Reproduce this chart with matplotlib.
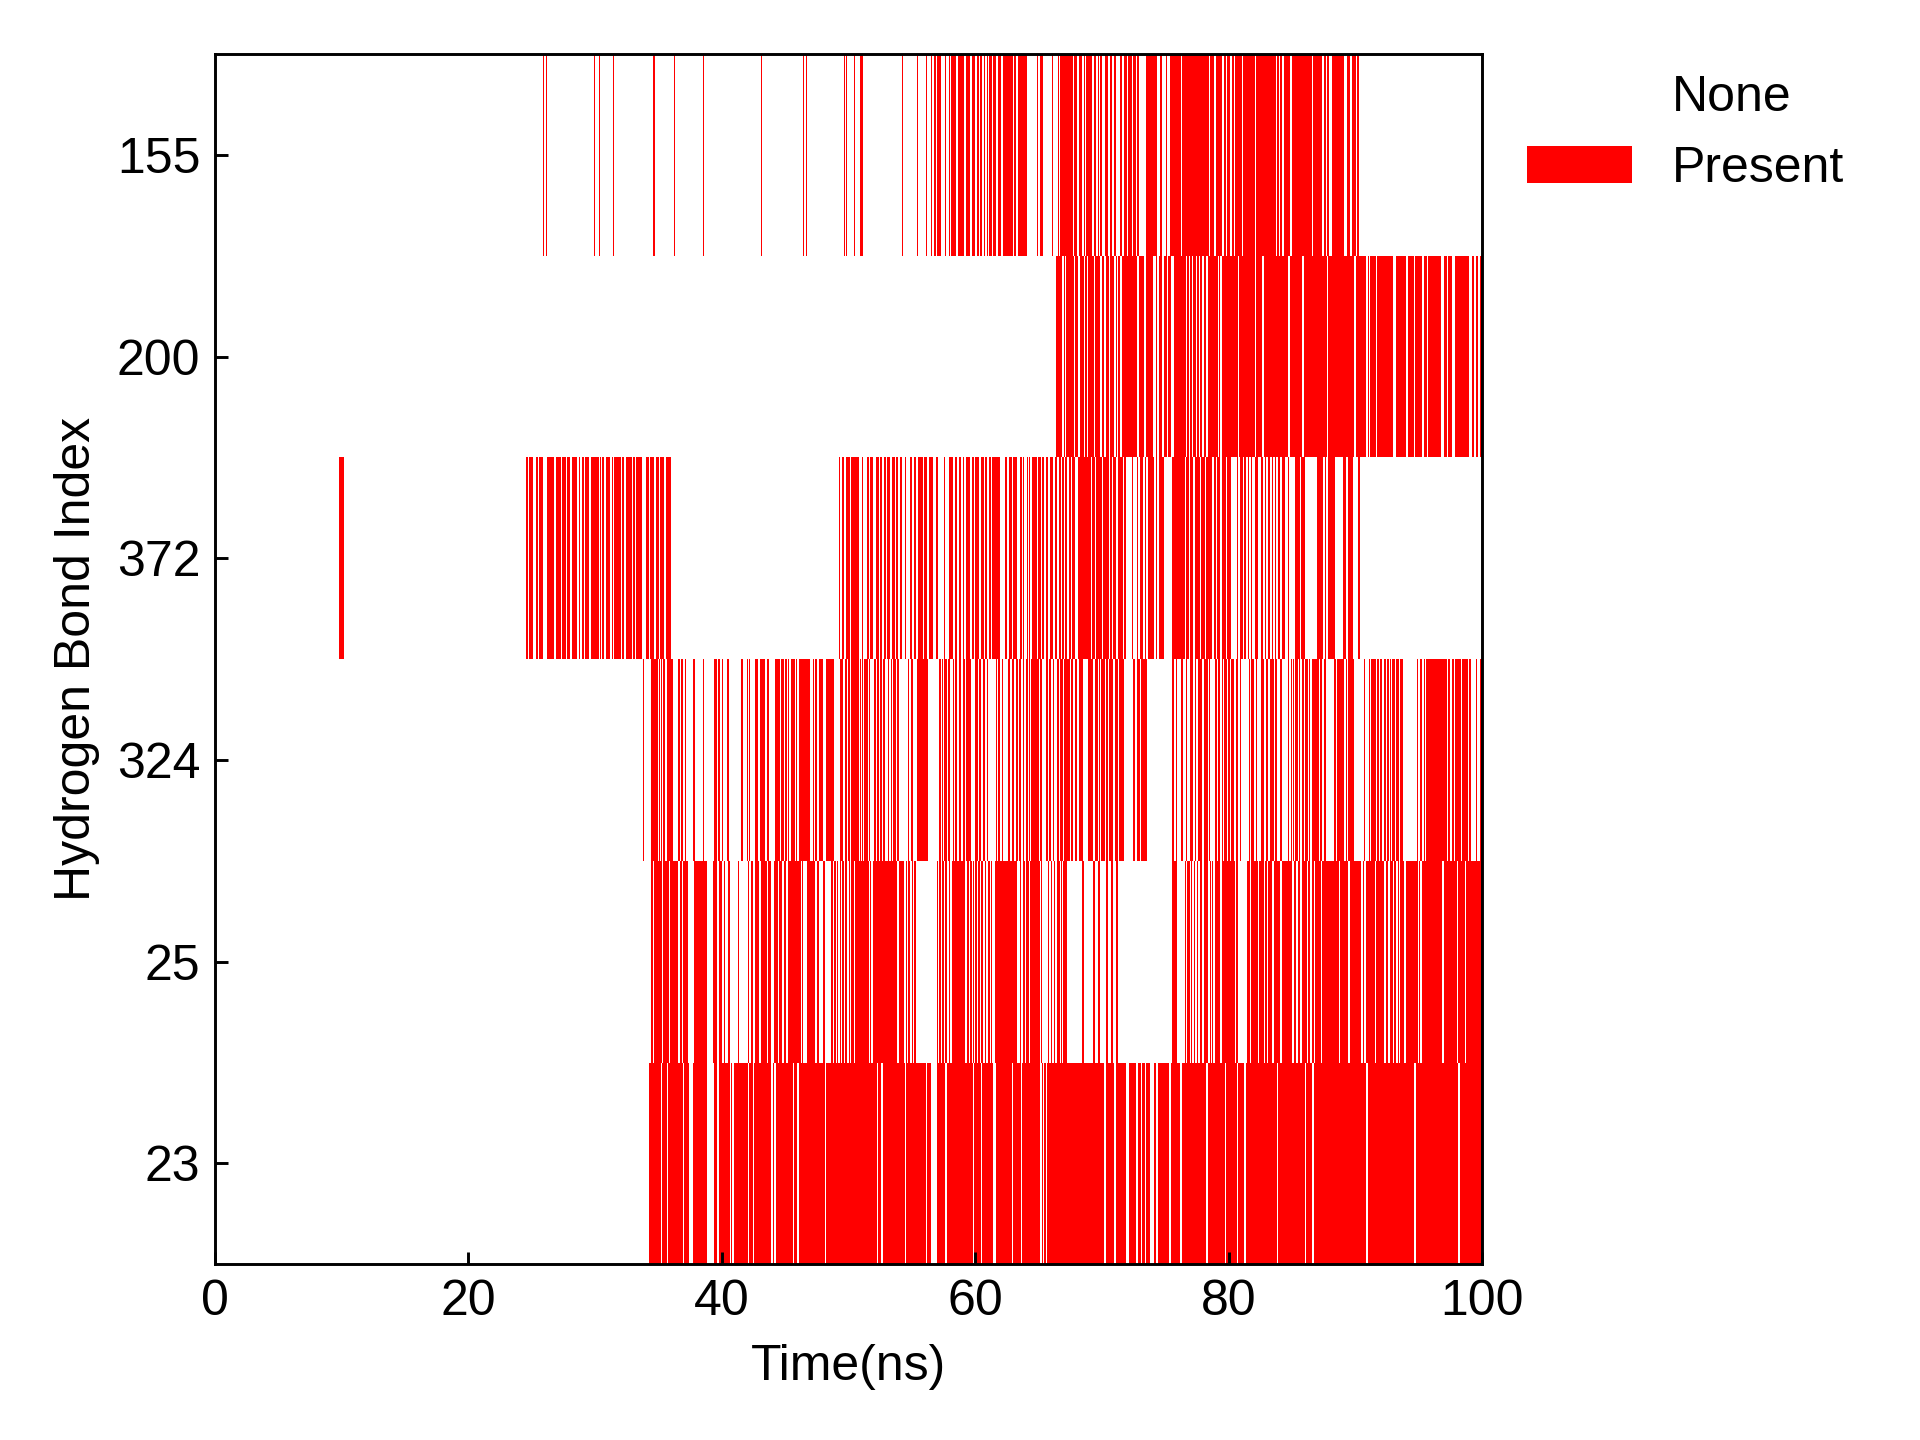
import matplotlib
matplotlib.use('Agg')
import matplotlib.pyplot as plt
from matplotlib.patches import Patch

plt.rcParams.update({'font.family': ['Liberation Sans', 'DejaVu Sans'], 'font.size': 12,
                     'axes.linewidth': 0.7})

# hydrogen bond labels, top row first
bond_labels = ['155', '200', '372', '324', '25', '23']

# presence intervals (ns)
hb155 = [(25.90, 25.98), (26.10, 26.18), (29.90, 29.98), (30.30, 30.38), (31.40, 31.48), (34.60, 34.68),
         (36.20, 36.28), (38.50, 38.58), (43.10, 43.18), (46.40, 46.48), (46.60, 46.68), (49.60, 49.70),
         (49.80, 49.88), (50.40, 50.48), (50.90, 51.10), (54.20, 54.28), (55.40, 55.48), (56.10, 56.18),
         (56.50, 56.58), (56.70, 56.90), (57.00, 57.30), (57.60, 57.68), (57.90, 57.98), (58.10, 58.50),
         (58.60, 59.10), (59.30, 59.60), (59.70, 60.00), (60.10, 60.30), (60.40, 60.50), (60.70, 60.78),
         (60.90, 61.00), (61.10, 61.30), (61.40, 61.60), (61.80, 62.00), (62.17, 62.38), (62.43, 62.96),
         (63.07, 63.22), (63.33, 64.07), (64.85, 64.96), (65.12, 65.33), (66.06, 66.12), (66.49, 66.59),
         (66.70, 67.12), (67.17, 67.70), (67.80, 68.01), (68.17, 68.43), (68.54, 68.64), (68.75, 68.85),
         (68.91, 69.22), (69.33, 69.54), (69.64, 69.75), (69.80, 69.96), (70.22, 70.49), (70.59, 70.80),
         (70.91, 71.12), (71.43, 71.59), (71.70, 71.96), (72.06, 72.33), (72.43, 72.64), (72.75, 72.91),
         (73.49, 74.33), (74.59, 74.70), (75.01, 75.12), (75.38, 76.22), (76.33, 77.70), (77.75, 78.43),
         (78.54, 78.80), (78.96, 79.49), (79.64, 79.75), (79.85, 80.12), (80.22, 80.38), (80.49, 81.01),
         (81.12, 82.06), (82.17, 83.70), (83.80, 83.96), (84.07, 84.22), (84.33, 84.85), (84.96, 86.54),
         (86.64, 87.38), (87.49, 87.64), (87.75, 87.91), (88.17, 89.12), (89.33, 89.54), (89.70, 90.01),
         (90.12, 90.28)]

hb200 = [(66.38, 66.85), (66.96, 67.07), (67.17, 67.75), (67.85, 68.12), (68.22, 68.54), (68.64, 68.80),
         (68.91, 69.33), (69.43, 69.85), (70.01, 70.12), (70.28, 70.54), (70.64, 70.91), (71.07, 71.17),
         (71.22, 71.43), (71.59, 72.75), (72.91, 73.33), (73.49, 74.01), (74.22, 74.33), (74.49, 74.75),
         (74.91, 75.12), (75.22, 75.43), (75.64, 76.59), (76.70, 76.85), (76.96, 77.07), (77.17, 77.38),
         (77.49, 77.64), (77.75, 77.91), (78.01, 78.17), (78.33, 79.12), (79.22, 79.33), (79.43, 80.70),
         (80.80, 82.06), (82.17, 82.64), (82.75, 84.70), (84.80, 85.80), (85.91, 87.75), (87.85, 89.91),
         (90.01, 90.85), (90.96, 91.07), (91.17, 91.59), (91.70, 92.96), (93.22, 93.96), (94.12, 94.59),
         (94.70, 95.28), (95.38, 95.64), (95.75, 96.75), (96.96, 97.22), (97.33, 97.64), (97.85, 98.96),
         (99.17, 99.33), (99.49, 99.70), (99.80, 100.0)]

hb372 = [(9.82, 10.18),
         (24.55, 24.66), (24.76, 25.13), (25.34, 25.45), (25.55, 25.92), (26.18, 26.76), (26.87, 27.29),
         (27.40, 27.66), (27.76, 28.03), (28.18, 28.55), (28.71, 28.82), (28.92, 29.08), (29.18, 29.50),
         (29.66, 30.29), (30.40, 30.45), (30.55, 30.66), (30.82, 31.18), (31.34, 31.39), (31.50, 32.03),
         (32.13, 32.29), (32.45, 32.87), (32.97, 33.13), (33.24, 33.71), (33.97, 34.24), (34.34, 34.66),
         (34.82, 35.03), (35.13, 35.45), (35.55, 35.97),
         (49.21, 49.32), (49.44, 49.62), (49.79, 50.14), (50.20, 50.78), (51.02, 51.13), (51.48, 51.60),
         (51.72, 51.89), (52.13, 52.36), (52.48, 52.65), (52.77, 52.94), (53.06, 53.29), (53.41, 53.64),
         (53.76, 53.88), (54.05, 54.23), (54.46, 54.52), (54.87, 54.99), (55.16, 55.34), (55.51, 55.86),
         (55.98, 56.21), (56.33, 56.62), (56.86, 57.03), (57.26, 57.32), (57.50, 57.62), (57.91, 58.20),
         (58.37, 58.55), (58.67, 58.90), (59.02, 59.13), (59.25, 59.60), (59.72, 59.89), (60.01, 60.30),
         (60.42, 60.65), (60.77, 60.94), (61.06, 61.24), (61.35, 61.59), (61.64, 61.94), (62.35, 62.52),
         (62.64, 62.93), (62.99, 63.28), (63.51, 63.69), (63.75, 63.86), (64.04, 64.16), (64.21, 64.33),
         (64.45, 64.86), (64.97, 65.15), (65.26, 65.44), (65.56, 65.73), (65.91, 66.14), (66.26, 66.43),
         (66.61, 66.72), (66.84, 67.02), (67.08, 67.25), (67.37, 67.54), (67.66, 67.83), (68.07, 69.12),
         (69.24, 69.47), (69.53, 69.99), (70.05, 70.35), (70.40, 70.52), (70.64, 70.75), (70.87, 71.10),
         (71.22, 71.63), (71.75, 71.86), (72.33, 72.45), (72.74, 72.86), (73.03, 73.21), (73.38, 73.50),
         (73.62, 74.08), (74.26, 74.37), (74.49, 74.90), (75.48, 76.53), (76.65, 76.83), (76.94, 77.18),
         (77.35, 77.70), (77.82, 78.11), (78.23, 78.64), (78.87, 78.99), (79.10, 79.34), (79.45, 79.75),
         (79.86, 80.16), (80.62, 80.74), (80.86, 81.09), (81.21, 81.38), (81.50, 81.62), (81.73, 81.85),
         (82.08, 82.32), (82.55, 82.67), (82.84, 82.96), (83.13, 83.25), (83.43, 83.48), (83.66, 83.72),
         (83.89, 84.01), (84.18, 84.42), (84.65, 84.77), (85.24, 85.59), (85.70, 85.99), (86.93, 87.40),
         (87.57, 87.69), (87.81, 88.39), (89.03, 89.26), (89.38, 89.79), (90.20, 90.37)]

hb324 = [(33.75, 33.83), (34.38, 34.96), (35.01, 35.12), (35.22, 35.28), (35.38, 35.49), (35.64, 36.12),
         (36.54, 36.70), (36.80, 36.96), (37.07, 37.17), (37.75, 37.86), (38.01, 38.07), (38.49, 38.59),
         (39.38, 39.59), (39.70, 39.86), (40.01, 40.12), (40.43, 40.54), (41.54, 41.64), (41.96, 42.07),
         (42.17, 42.22), (42.59, 42.86), (43.01, 43.38), (43.54, 43.75), (44.22, 44.59), (44.64, 44.91),
         (44.96, 45.12), (45.22, 45.33), (45.43, 45.59), (45.64, 45.75), (45.86, 45.96), (46.07, 46.96),
         (47.17, 47.28), (47.38, 47.49), (47.64, 48.01), (48.22, 48.86), (49.28, 49.59), (49.70, 49.86),
         (49.96, 50.12), (50.22, 50.80), (50.91, 51.01), (51.07, 51.17), (51.22, 51.49), (51.59, 51.70),
         (52.01, 52.12), (52.22, 52.38), (52.49, 52.64), (52.75, 52.86), (53.07, 53.22), (53.33, 53.43),
         (53.54, 53.70), (53.80, 53.96), (54.70, 54.80), (54.96, 55.07), (55.38, 56.28), (57.17, 57.28),
         (57.33, 57.43), (57.49, 57.80), (57.86, 57.96), (58.22, 58.33), (58.43, 58.59), (58.70, 58.86),
         (59.01, 59.17), (59.28, 59.64), (59.96, 60.17), (60.28, 60.43), (60.64, 60.75), (60.91, 61.01),
         (61.59, 61.70), (61.80, 61.96), (62.07, 62.22), (62.59, 62.75), (62.86, 63.07), (63.17, 63.38),
         (63.43, 63.64), (63.75, 63.86), (63.96, 64.12), (64.22, 64.33), (64.43, 65.01), (65.12, 65.22),
         (65.59, 65.70), (65.80, 65.96), (66.11, 66.22), (66.48, 66.58), (66.69, 66.90), (67.01, 67.43),
         (67.53, 67.74), (67.90, 68.01), (68.16, 68.53), (68.90, 69.32), (69.48, 69.64), (69.74, 69.85),
         (69.95, 70.22), (70.32, 70.48), (70.58, 70.90), (71.01, 71.27), (71.37, 71.74), (72.43, 72.58),
         (72.74, 73.01), (73.11, 73.53), (75.53, 75.69), (75.85, 75.95), (76.22, 76.37), (76.64, 76.74),
         (76.95, 77.16), (77.32, 77.43), (77.58, 77.90), (78.06, 78.32), (78.43, 78.53), (78.90, 79.06),
         (79.16, 79.32), (79.43, 79.53), (79.64, 79.85), (79.95, 80.06), (80.16, 80.43), (80.53, 80.74),
         (80.85, 80.95), (81.58, 81.69), (81.79, 82.01), (82.11, 82.22), (82.58, 82.79), (82.95, 83.11),
         (83.27, 83.53), (83.64, 83.79), (84.01, 84.16), (84.64, 84.79), (84.90, 84.95), (85.06, 85.11),
         (85.22, 85.43), (85.53, 85.64), (85.74, 85.95), (86.01, 86.22), (86.32, 86.43), (86.58, 87.11),
         (87.22, 87.37), (87.53, 87.69), (88.32, 88.43), (88.53, 89.11), (89.22, 89.32), (89.43, 89.90),
         (90.64, 90.74), (91.06, 91.16), (91.22, 91.58), (91.69, 91.85), (91.95, 92.11), (92.22, 92.37),
         (92.48, 92.64), (92.74, 92.79), (92.90, 93.11), (93.22, 93.43), (93.53, 93.74), (94.85, 94.95),
         (95.06, 95.22), (95.37, 95.48), (95.58, 97.22), (97.32, 97.48), (97.58, 97.74), (97.85, 98.32),
         (98.43, 98.85), (98.95, 99.11), (99.48, 99.58), (99.85, 99.95)]

hb25 = [(34.43, 34.54), (34.64, 35.28), (35.38, 35.80), (35.91, 36.54), (36.70, 36.86), (36.96, 37.33),
        (37.80, 38.86), (39.28, 39.64), (39.75, 40.01), (40.17, 40.28), (40.49, 40.64), (41.28, 41.38),
        (42.07, 42.17), (42.28, 42.49), (42.59, 42.96), (43.07, 43.54), (43.64, 43.91), (44.12, 44.43),
        (44.49, 44.75), (44.91, 45.07), (45.22, 46.22), (46.33, 46.43), (46.70, 47.38), (47.54, 47.64),
        (48.01, 48.17), (48.64, 48.75), (48.86, 49.01), (49.07, 49.17), (49.33, 49.43), (49.49, 49.64),
        (49.75, 49.91), (50.01, 50.12), (50.22, 50.43), (50.54, 51.59), (51.70, 51.80), (51.96, 53.80),
        (53.96, 54.38), (54.49, 54.59), (54.70, 54.86), (55.01, 55.07), (55.17, 55.28), (55.91, 55.96),
        (56.96, 57.07), (57.17, 57.28), (57.38, 57.49), (57.64, 57.75), (57.91, 58.01), (58.12, 59.17),
        (59.33, 59.49), (59.54, 59.70), (59.80, 59.91), (60.01, 60.12), (60.22, 60.38), (60.43, 60.59),
        (60.75, 60.86), (61.01, 61.12), (61.22, 61.33), (61.54, 63.28), (63.54, 63.64), (63.75, 63.91),
        (64.01, 64.22), (64.33, 65.07), (65.17, 65.28), (65.54, 65.59), (65.70, 65.80), (65.95, 66.06),
        (66.22, 66.32), (66.43, 66.64), (66.74, 66.85), (66.95, 67.22), (68.43, 68.58), (69.27, 69.43),
        (69.69, 69.85), (70.27, 70.43), (70.74, 70.85), (71.11, 71.22), (75.53, 75.95), (76.53, 76.64),
        (76.74, 76.90), (77.01, 77.11), (77.27, 77.37), (77.48, 77.58), (77.74, 77.85), (78.01, 78.11),
        (78.16, 78.32), (78.53, 78.58), (78.69, 78.79), (78.90, 79.32), (79.43, 80.48), (80.58, 80.69),
        (81.43, 81.69), (81.79, 82.27), (82.37, 82.74), (82.85, 83.01), (83.11, 83.43), (83.53, 84.06),
        (84.16, 84.74), (84.79, 84.95), (85.11, 85.32), (85.43, 85.64), (85.74, 86.16), (86.22, 86.43),
        (86.53, 86.69), (86.79, 87.27), (87.37, 88.69), (88.79, 88.90), (88.95, 89.43), (89.53, 90.43),
        (90.58, 90.69), (90.79, 91.53), (91.64, 92.22), (92.37, 92.53), (92.74, 92.95), (93.06, 93.22),
        (93.32, 93.43), (93.53, 93.85), (93.95, 94.90), (95.01, 95.11), (95.22, 96.85), (96.95, 98.01),
        (98.11, 98.64), (98.74, 100.0)]

hb23 = [(34.28, 35.17), (35.28, 35.64), (35.75, 36.91), (37.01, 37.38), (37.75, 38.80), (39.38, 39.64),
        (39.75, 40.64), (40.75, 40.80), (40.96, 42.07), (42.17, 42.43), (42.54, 43.91), (44.01, 44.12),
        (44.28, 45.59), (45.70, 45.96), (46.07, 48.12), (48.22, 52.22), (52.33, 52.59), (52.70, 54.43),
        (54.54, 56.07), (56.17, 56.49), (56.96, 57.64), (57.75, 59.80), (59.91, 60.43), (60.54, 61.43),
        (61.59, 62.86), (62.96, 63.59), (63.70, 65.12), (65.22, 65.33), (65.43, 65.54), (65.64, 70.16),
        (70.32, 70.95), (71.06, 71.90), (72.11, 72.69), (72.85, 73.06), (73.16, 73.37), (73.48, 73.79),
        (74.11, 74.27), (74.43, 75.27), (75.43, 76.16), (76.27, 78.22), (78.32, 79.69), (79.79, 80.64),
        (80.74, 81.22), (81.32, 83.79), (83.90, 86.01), (86.11, 86.53), (86.69, 90.85), (90.95, 94.64),
        (94.74, 98.11), (98.22, 100.0)]

rows = [hb155, hb200, hb372, hb324, hb25, hb23]

fig = plt.figure(figsize=(6.4, 4.8), dpi=300)
ax = fig.add_axes([0.112, 0.122, 0.66, 0.8405])

for i, segs in enumerate(rows):
    ax.broken_barh([(a, b - a) for a, b in segs], (i - 0.5, 1.0),
                   facecolors='red', edgecolor='none', linewidth=0)

ax.set_xlim(0, 100)
ax.set_ylim(len(rows) - 0.5, -0.5)
ax.set_yticks(range(len(rows)))
ax.set_yticklabels(bond_labels)
ax.set_xticks([0, 20, 40, 60, 80, 100])
ax.tick_params(direction='in', length=3, width=0.7, labelsize=12)
ax.set_xlabel('Time(ns)', fontsize=12, labelpad=4.5)
ax.set_ylabel('Hydrogen Bond Index', fontsize=12)

handles = [Patch(facecolor='white', edgecolor='none', label='None'),
           Patch(facecolor='red', edgecolor='none', label='Present')]
ax.legend(handles=handles, loc='upper left', bbox_to_anchor=(1.0, 1.02), frameon=False,
          fontsize=12, handlelength=2.1, handleheight=0.75, labelspacing=0.5, handletextpad=0.8)

fig.savefig('out.png', dpi=300)
